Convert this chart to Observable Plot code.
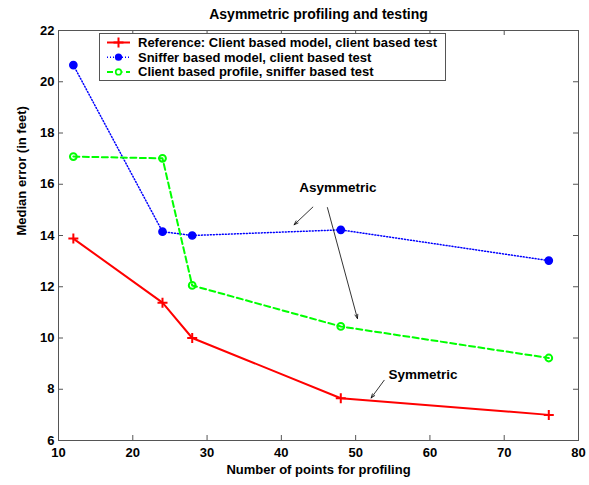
<!DOCTYPE html>
<html><head><meta charset="utf-8">
<script src="https://cdn.jsdelivr.net/npm/d3@7"></script>
<script src="https://cdn.jsdelivr.net/npm/@observablehq/plot@0.6"></script>
<style>
body{margin:0;background:#fff;}
#wrap{position:relative;width:589px;height:485px;font-family:"Liberation Sans",Arial,sans-serif;}
#legend{position:absolute;left:99px;top:33px;}
</style></head><body><div id="wrap"></div>
<script>
// ---- data ----
const xPoints = [12, 24, 28, 48, 76];
const referenceErr = [13.88, 11.38, 10.0, 7.65, 7.0];
const snifferModelErr = [20.65, 14.15, 14.0, 14.22, 13.02];
const snifferTestErr = [17.08, 17.01, 12.05, 10.45, 9.22];
const seriesNames = [
  "Reference: Client based model, client based test",
  "Sniffer based model, client based test",
  "Client based profile, sniffer based test"
];
const xTicks = [10, 20, 30, 40, 50, 60, 70, 80];
const yTicks = [6, 8, 10, 12, 14, 16, 18, 20, 22];
const titleText = "Asymmetric profiling and testing";
const xLabel = "Number of points for profiling";
const yLabel = "Median error (in feet)";
const noteLabels = ["Asymmetric", "Symmetric"];
const noteX = [47.6, 59.06];
const noteY = [15.88, 8.58];
const arrowX1 = [44.24, 46.2, 53.84];
const arrowY1 = [15.11, 15.09, 8.35];
const arrowX2 = [41.72, 50.24, 52.09];
const arrowY2 = [14.42, 10.76, 7.66];

// ---- build ----
const W = 589, H = 485, mL = 58, mR = 11, mT = 30, mB = 45;
const fw = W - mL - mR, fh = H - mT - mB;
const font = "Liberation Sans, Arial, sans-serif";
const axisColor = "#555";

const table = (ys) => xPoints.map((x, i) => ({x, y: ys[i]}));
const ref = table(referenceErr), sniff = table(snifferModelErr), cli = table(snifferTestErr);
const notes = noteLabels.map((t, i) => ({t, x: noteX[i], y: noteY[i]}));
const arrows = arrowX1.map((x1, i) => ({x1, y1: arrowY1[i], x2: arrowX2[i], y2: arrowY2[i]}));

const plusSymbol = {draw(ctx, size) { const r = Math.sqrt(size / Math.PI); ctx.moveTo(-r, 0); ctx.lineTo(r, 0); ctx.moveTo(0, -r); ctx.lineTo(0, r); }};

const chart = Plot.plot({
  width: W, height: H,
  marginLeft: mL, marginRight: mR, marginTop: mT, marginBottom: mB,
  style: {fontFamily: font, background: "#fff", overflow: "visible"},
  x: {domain: [10, 80]},
  y: {domain: [6, 22]},
  marks: [
    Plot.frame({stroke: axisColor}),
    // inward ticks on all four sides
    Plot.ruleX(xTicks, {stroke: axisColor, insetTop: fh - 5}),
    Plot.ruleX(xTicks, {stroke: axisColor, insetBottom: fh - 5}),
    Plot.ruleY(yTicks, {stroke: axisColor, insetRight: fw - 5}),
    Plot.ruleY(yTicks, {stroke: axisColor, insetLeft: fw - 5}),
    Plot.axisX(xTicks, {anchor: "bottom", tickSize: 0, tickPadding: 7, label: null, fontSize: 13, fontWeight: "bold", fill: "#000"}),
    Plot.axisY(yTicks, {anchor: "left", tickSize: 0, tickPadding: 4, label: null, fontSize: 13, fontWeight: "bold", fill: "#000"}),
    // series
    Plot.line(ref, {x: "x", y: "y", stroke: "#ff0000", strokeWidth: 2}),
    Plot.line(sniff, {x: "x", y: "y", stroke: "#0000ff", strokeWidth: 1.5, strokeDasharray: "1,2"}),
    Plot.line(cli, {x: "x", y: "y", stroke: "#00ff00", strokeWidth: 2, strokeDasharray: "6,3.5"}),
    Plot.dot(ref, {x: "x", y: "y", symbol: plusSymbol, r: 5, stroke: "#ff0000", strokeWidth: 2, fill: "none"}),
    Plot.dot(sniff, {x: "x", y: "y", r: 3.6, fill: "#0000ff", stroke: "#0000ff"}),
    Plot.dot(cli, {x: "x", y: "y", r: 3.4, fill: "none", stroke: "#00ff00", strokeWidth: 2}),
    // annotations
    Plot.arrow(arrows, {x1: "x1", y1: "y1", x2: "x2", y2: "y2", stroke: "#000", strokeWidth: 0.8, headLength: 8, headAngle: 40, bend: 0}),
    Plot.text(notes, {x: "x", y: "y", text: "t", fontSize: 13.5, fontWeight: "bold", fill: "#000"}),
    // titles
    Plot.text([titleText], {frameAnchor: "top", dy: -12, lineAnchor: "bottom", fontSize: 14, fontWeight: "bold", fill: "#000"}),
    Plot.text([xLabel], {frameAnchor: "bottom", dy: 33, fontSize: 13, fontWeight: "bold", fill: "#000"}),
    Plot.text([yLabel], {frameAnchor: "left", dx: -37, rotate: -90, fontSize: 13, fontWeight: "bold", fill: "#000"})
  ]
});
const wrap = document.getElementById("wrap");
wrap.appendChild(chart);

// ---- legend (drawn in an overlay built from the series arrays) ----
const legW = 347, legH = 48;
const styles = [
  {stroke: "#ff0000", width: 2, dash: null, marker: "plus"},
  {stroke: "#0000ff", width: 1.5, dash: "1,2", marker: "dot"},
  {stroke: "#00ff00", width: 2, dash: "6,3.5", marker: "circle"}
];
const leg = d3.create("svg").attr("id", "legend").attr("width", legW).attr("height", legH)
  .style("font-family", font);
leg.append("rect").attr("x", 0.5).attr("y", 0.5).attr("width", legW - 1).attr("height", legH - 1)
  .attr("fill", "#fff").attr("stroke", axisColor);
seriesNames.forEach((name, i) => {
  const cy = 9.5 + i * 14.7, s = styles[i];
  const g = leg.append("g");
  g.append("line").attr("x1", 8).attr("x2", 31).attr("y1", cy).attr("y2", cy)
    .attr("stroke", s.stroke).attr("stroke-width", s.width).attr("stroke-dasharray", s.dash);
  const mx = 19.5;
  if (s.marker === "plus") {
    g.append("path").attr("d", `M${mx-5},${cy}H${mx+5}M${mx},${cy-5}V${cy+5}`).attr("stroke", s.stroke).attr("stroke-width", 2);
  } else if (s.marker === "dot") {
    g.append("circle").attr("cx", mx).attr("cy", cy).attr("r", 3.6).attr("fill", s.stroke);
  } else {
    g.append("circle").attr("cx", mx).attr("cy", cy).attr("r", 2.8).attr("fill", "#fff").attr("stroke", s.stroke).attr("stroke-width", 1.6);
  }
  g.append("text").attr("x", 39).attr("y", cy).attr("dy", "0.35em").attr("font-size", 13)
    .attr("font-weight", "bold").attr("fill", "#000").text(name);
});
wrap.appendChild(leg.node());
</script>
</body></html>
